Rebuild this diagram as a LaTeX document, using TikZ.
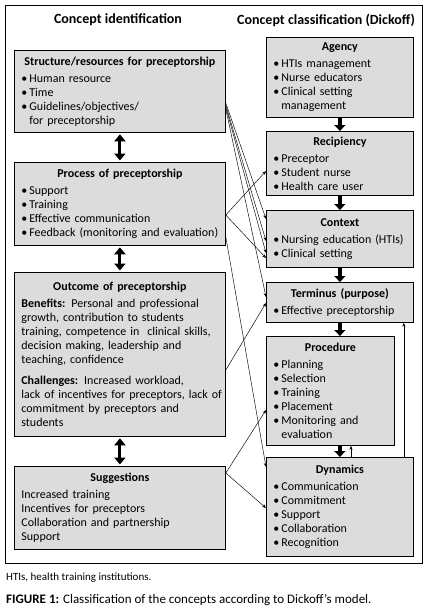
\documentclass[tikz,border=0pt]{standalone}
\usepackage{fontspec}
\setmainfont{Carlito}
\usetikzlibrary{arrows.meta,calc}
\definecolor{boxgray}{HTML}{DCDCDC}
\newcommand{\boxhead}[1]{{\centering\bfseries #1\par}\vspace{3pt}}
\newcommand{\itm}{\par\noindent\makebox[8pt][l]{\textbullet}}
\newcommand{\cont}{\\\hspace*{8pt}}

\begin{document}
\begin{tikzpicture}[x=1pt,y=1pt,
  box/.style={draw, line width=0.8pt, fill=boxgray, anchor=north west, inner xsep=7pt, inner ysep=3pt,
    font=\fontsize{12}{14}\selectfont},
  lbox/.style={box, text width=197pt},
  rbox/.style={box, text width=133pt},
  dbl/.style={{Triangle[width=11pt,length=7pt]}-{Triangle[width=11pt,length=7pt]}, line width=3pt, shorten >=1.5pt, shorten <=1.5pt},
  down/.style={-{Triangle[width=11pt,length=6pt]}, line width=4.5pt},
  link/.style={-{Stealth[length=4pt,width=3pt]}, line width=0.45pt}]
\useasboundingbox (0,0) rectangle (428,-608);
\draw[line width=0.8pt] (5,-5) rectangle (422,-563);
\node[font=\fontsize{14}{16}\selectfont\bfseries] (ltitle) at (118,-20) {Concept identification};
\node[font=\fontsize{14}{16}\selectfont\bfseries] (rtitle) at (326,-20) {Concept classification (Dickoff)};

% concept identification
\node[lbox, minimum height=82pt] (struct) at (14,-50) {\boxhead{Structure/resources for preceptorship}
  \itm Human resource
  \itm Time
  \itm Guidelines/objectives/\cont for preceptorship};
\node[lbox, minimum height=83pt] (process) at (14,-162) {\boxhead{Process of preceptorship}
  \itm Support
  \itm Training
  \itm Effective communication
  \itm Feedback (monitoring and evaluation)};
\node[lbox, minimum height=164pt] (outcome) at (14,-272) {\boxhead{Outcome of preceptorship}
  \raggedright\textbf{Benefits:} Personal and professional\\growth, contribution to students\\training, competence in \ clinical skills,\\decision making, leadership and\\teaching, confidence\par\vspace{7pt}
  \textbf{Challenges:} Increased workload,\\\mbox{lack of incentives for preceptors, lack of}\\commitment by preceptors and\\students};
\node[lbox, minimum height=83pt] (suggest) at (14,-466) {\boxhead{Suggestions}
  \raggedright Increased training\\Incentives for preceptors\\Collaboration and partnership\\Support};

% Dickoff classification
\node[rbox, minimum height=80pt] (agency) at (266,-37) {\boxhead{Agency}
  \itm HTIs management
  \itm Nurse educators
  \itm Clinical setting\cont management};
\node[rbox, minimum height=64pt] (recip) at (266,-131) {\boxhead{Recipiency}
  \itm Preceptor
  \itm Student nurse
  \itm Health care user};
\node[rbox, minimum height=57pt] (context) at (266,-210) {\boxhead{Context}
  \itm Nursing education (HTIs)
  \itm Clinical setting};
\node[rbox, minimum height=40pt] (terminus) at (266,-282) {\boxhead{Terminus (purpose)}
  \itm Effective preceptorship};
\node[box, text width=114pt, minimum height=109pt] (proced) at (266,-336) {\boxhead{Procedure}
  \itm Planning
  \itm Selection
  \itm Training
  \itm Placement
  \itm Monitoring and\cont evaluation};
\node[rbox, minimum height=99pt] (dynam) at (266,-457) {\boxhead{Dynamics}
  \itm Communication
  \itm Commitment
  \itm Support
  \itm Collaboration
  \itm Recognition};

\draw[dbl] (struct.south) -- (process.north);
\draw[dbl] (process.south) -- (outcome.north);
\draw[dbl] (outcome.south) -- (suggest.north);

\draw[down] (agency.south) -- (recip.north);
\draw[down] (recip.south) -- (context.north);
\draw[down] (context.south) -- (terminus.north);
\draw[down] (terminus.south -| dynam.north) -- (proced.north -| dynam.north);
\draw[down] (proced.south -| dynam.north) -- (dynam.north);
\coordinate (back1) at ($(dynam.north west)+(85,0)$);
\coordinate (back2) at ($(dynam.north east)+(-10,0)$);
\draw[link] (back1) -- (back1 |- proced.south);
\draw[link] (back2) -- (back2 |- terminus.south);

% links between the two columns
\draw[link] ($(struct.north east)+(0,-53)$) -- ($(context.north west)+(0,-9)$);
\draw[link] ($(struct.north east)+(0,-55)$) -- ($(context.north west)+(0,-31)$);
\draw[link] ($(struct.north east)+(0,-57)$) -- ($(context.north west)+(0,-43)$);
\draw[link] ($(struct.north east)+(0,-59)$) -- ($(terminus.north west)+(0,-15)$);
\draw[link] ($(process.north east)+(0,-53)$) -- ($(recip.north west)+(0,-40)$);
\draw[link] ($(process.north east)+(0,-53)$) -- ($(context.north west)+(0,-48)$);
\draw[link] ($(process.north east)+(0,-75)$) -- ($(dynam.north west)+(0,-10)$);
\draw[link] ($(outcome.north east)+(0,-98)$) -- ($(terminus.north west)+(0,-21)$);
\draw[link] ($(suggest.north east)+(0,-7)$) -- ($(proced.north west)+(0,-74)$);
\draw[link] ($(suggest.north east)+(0,-7)$) -- ($(dynam.north west)+(0,-51)$);

\node[anchor=west, inner sep=0pt, font=\fontsize{11}{13}\selectfont] (note) at (6,-578) {HTIs, health training institutions.};
\node[anchor=west, inner sep=0pt, font=\fontsize{13}{15}\selectfont] (caption) at (6,-600) {\textbf{FIGURE 1:} Classification of the concepts according to Dickoff’s model.};
\end{tikzpicture}
\end{document}
